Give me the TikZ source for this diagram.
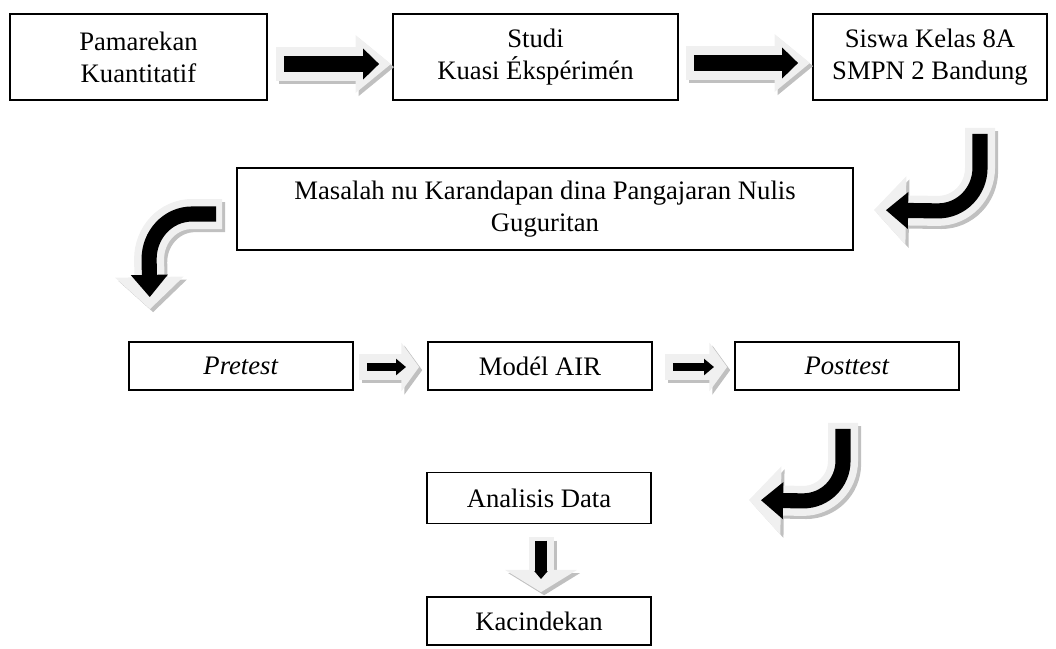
\documentclass[tikz,border=0pt]{standalone}
\usepackage{fontspec}
\setmainfont{Liberation Serif}
\usepackage{tikz}
\usetikzlibrary{positioning, calc, arrows.meta}
\definecolor{arrowfill}{RGB}{240,240,240}
\definecolor{arrowshade}{RGB}{192,192,192}

\begin{document}
\begin{tikzpicture}[x=0.45pt, y=-0.45pt,
	font=\fontsize{12}{14.4}\selectfont,
	box/.style={draw, line width=0.8pt, align=center, inner sep=0pt},
	% the three layers of a block arrow
	shadelayer/.style={draw=arrowshade, transform canvas={shift={(1.4pt,-1.4pt)}}},
	filllayer/.style={draw=arrowfill},
	inklayer/.style={draw=black},
	% sizes of the block arrows
	bigout/.style={line width=15pt, -{Triangle[width=25pt,length=16pt]}},
	bigin/.style={line width=6.8pt, -{Triangle[width=13.5pt,length=7.2pt]}, shorten <=3.6pt, shorten >=5.4pt},
	bendout/.style={line width=13.5pt, -{Triangle[width=30pt,length=14.4pt]}},
	bendin/.style={line width=6.8pt, -{Triangle[width=16pt,length=10pt]}, shorten <=2.7pt, shorten >=5.4pt},
	smallout/.style={line width=11.7pt, -{Triangle[width=21.6pt,length=8pt]}},
	smallin/.style={line width=4pt, -{Triangle[width=7.2pt,length=4.5pt]}, shorten <=3.6pt, shorten >=5.9pt},
	downout/.style={line width=11.25pt, -{Triangle[width=32pt,length=10pt]}},
	downin/.style={line width=5.4pt, -{Triangle[width=5.9pt,length=3.6pt]}, shorten <=1.4pt, shorten >=5.9pt}
	]
	\useasboundingbox (0,0) rectangle (1056,648);

	% the boxes
	\node[box, minimum width=115.65pt, minimum height=38.7pt] (pamarekan) at (138.5,57) {Pamarekan\\Kuantitatif};
	\node[box, minimum width=128.25pt, minimum height=38.7pt] (studi) at (535.5,57) {Studi\\Kuasi Ékspérimén};
	\node[box, minimum width=105.3pt, minimum height=38.7pt] (siswa) at (930,57) {Siswa Kelas 8A\\SMPN 2 Bandung};
	\node[box, minimum width=277.2pt, minimum height=36.9pt] (masalah) at (545,209) {Masalah nu Karandapan dina Pangajaran Nulis\\Guguritan};
	\node[box, minimum width=100.8pt, minimum height=21.6pt] (pretest) at (241,366) {\textit{Pretest}};
	\node[box, minimum width=100.8pt, minimum height=21.6pt] (model) at (540,366) {Modél AIR};
	\node[box, minimum width=100.8pt, minimum height=21.6pt] (posttest) at (847,366) {\textit{Posttest}};
	\node[box, minimum width=100.8pt, minimum height=22.95pt] (analisis) at (539,498) {Analisis Data};
	\node[box, minimum width=100.8pt, minimum height=21.6pt] (kacindekan) at (539,621) {Kacindekan};

	% end points of the arrows
	\coordinate (a1s) at ($(pamarekan.east)+(8,7)$);
	\coordinate (a1e) at ($(studi.west)+(-1,7)$);
	\coordinate (a2s) at ($(studi.east)+(7,6)$);
	\coordinate (a2e) at ($(siswa.west)+(-2,6)$);
	\coordinate (b1s) at ($(siswa.south)+(50,27)$);
	\coordinate (b1e) at ($(masalah.east)+(20,1)$);
	\coordinate (b2s) at ($(masalah.west)+(-14,5)$);
	\coordinate (b2e) at ($(pretest.north)+(-91,-32)$);
	\coordinate (s1s) at ($(pretest.east)+(5,1)$);
	\coordinate (s1e) at ($(model.west)+(-8,1)$);
	\coordinate (s2s) at ($(model.east)+(12,1)$);
	\coordinate (s2e) at ($(posttest.west)+(-7,1)$);
	\coordinate (b3s) at ($(posttest.south)+(-4,32)$);
	\coordinate (b3e) at ($(analisis.east)+(97,2)$);
	\coordinate (d1s) at ($(analisis.south)+(2,13)$);
	\coordinate (d1e) at ($(kacindekan.north)+(2,-4)$);

	% top row
	\draw[bigout, shadelayer] (a1s) -- (a1e);
	\draw[bigout, filllayer] (a1s) -- (a1e);
	\draw[bigin, inklayer] (a1s) -- (a1e);
	\draw[bigout, shadelayer] (a2s) -- (a2e);
	\draw[bigout, filllayer] (a2s) -- (a2e);
	\draw[bigin, inklayer] (a2s) -- (a2e);

	% bend down to the problem box
	\draw[bendout, shadelayer] (b1s) -- ++(0,40) to[out=-90,in=0] ++(-42,43) -- (b1e);
	\draw[bendout, filllayer] (b1s) -- ++(0,40) to[out=-90,in=0] ++(-42,43) -- (b1e);
	\draw[bendin, inklayer] (b1s) -- ++(0,40) to[out=-90,in=0] ++(-42,43) -- (b1e);

	% bend down to the pretest
	\draw[bendout, shadelayer] (b2s) -- ++(-30,0) to[out=180,in=90] ++(-43,45) -- (b2e);
	\draw[bendout, filllayer] (b2s) -- ++(-30,0) to[out=180,in=90] ++(-43,45) -- (b2e);
	\draw[bendin, inklayer] (b2s) -- ++(-30,0) to[out=180,in=90] ++(-43,45) -- (b2e);

	% middle row
	\draw[smallout, shadelayer] (s1s) -- (s1e);
	\draw[smallout, filllayer] (s1s) -- (s1e);
	\draw[smallin, inklayer] (s1s) -- (s1e);
	\draw[smallout, shadelayer] (s2s) -- (s2e);
	\draw[smallout, filllayer] (s2s) -- (s2e);
	\draw[smallin, inklayer] (s2s) -- (s2e);

	% bend down to the analysis
	\draw[bendout, shadelayer] (b3s) -- ++(0,38) to[out=-90,in=0] ++(-40,40) -- (b3e);
	\draw[bendout, filllayer] (b3s) -- ++(0,38) to[out=-90,in=0] ++(-40,40) -- (b3e);
	\draw[bendin, inklayer] (b3s) -- ++(0,38) to[out=-90,in=0] ++(-40,40) -- (b3e);

	% down to the conclusion
	\draw[downout, shadelayer] (d1s) -- (d1e);
	\draw[downout, filllayer] (d1s) -- (d1e);
	\draw[downin, inklayer] (d1s) -- (d1e);
\end{tikzpicture}
\end{document}
